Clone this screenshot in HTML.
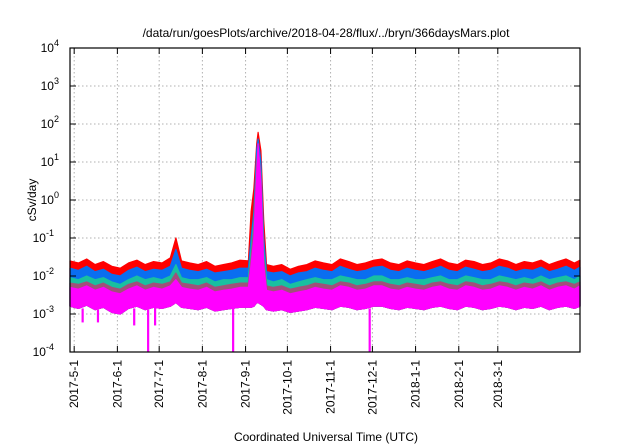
<!DOCTYPE html>
<html><head><meta charset="utf-8"><style>
html,body{margin:0;padding:0;background:#fff;}
svg{display:block;font-family:"Liberation Sans",sans-serif;}
</style></head><body>
<svg id="chart" width="640" height="448" viewBox="0 0 640 448" xmlns="http://www.w3.org/2000/svg">
<text x="326" y="37" font-size="12" text-anchor="middle">/data/run/goesPlots/archive/2018-04-28/flux/../bryn/366daysMars.plot</text>
<text x="0" y="0" font-size="12" text-anchor="middle" transform="translate(36,200) rotate(-90)">cSv/day</text>
<text x="326" y="441" font-size="12" text-anchor="middle">Coordinated Universal Time (UTC)</text>
<g id="grid"></g>
<g id="series"></g>
<g id="axes"></g>
</svg>
<script>
const days=[0,6,12,18,24,30,36,42,48,54,60,66,72,76,80,86,92,98,104,110,116,122,128,130,132,134,135,137,139,141,146,152,158,164,170,176,182,188,194,200,206,212,218,224,230,236,242,248,254,260,266,272,278,284,290,296,302,308,314,320,326,332,338,344,350,356,362,366];
const redVals=[0.025,0.022,0.028,0.02,0.024,0.018,0.016,0.022,0.026,0.02,0.024,0.022,0.03,0.1,0.025,0.022,0.02,0.024,0.018,0.02,0.022,0.026,0.025,0.5,2,30,60,20,0.3,0.02,0.018,0.02,0.015,0.018,0.02,0.025,0.022,0.02,0.028,0.024,0.02,0.022,0.026,0.028,0.022,0.02,0.025,0.022,0.02,0.024,0.028,0.022,0.02,0.026,0.024,0.02,0.022,0.028,0.025,0.02,0.024,0.022,0.026,0.02,0.024,0.028,0.022,0.026];
const blueVals=[0.016,0.014,0.018,0.013,0.015,0.011,0.01,0.014,0.017,0.013,0.015,0.014,0.018,0.05,0.016,0.014,0.013,0.015,0.012,0.013,0.014,0.016,0.016,0.1,0.5,20,40,10,0.1,0.013,0.012,0.013,0.01,0.012,0.013,0.016,0.014,0.013,0.018,0.015,0.013,0.014,0.017,0.018,0.014,0.013,0.016,0.014,0.013,0.015,0.018,0.014,0.013,0.017,0.015,0.013,0.014,0.018,0.016,0.013,0.015,0.014,0.017,0.013,0.015,0.018,0.014,0.017];
const tealVals=[0.009,0.008,0.01,0.008,0.009,0.007,0.006,0.008,0.01,0.008,0.009,0.008,0.01,0.02,0.009,0.008,0.008,0.009,0.007,0.008,0.008,0.009,0.009,0.05,0.3,10,25,5,0.05,0.008,0.007,0.008,0.006,0.007,0.008,0.009,0.008,0.008,0.01,0.009,0.008,0.008,0.01,0.01,0.008,0.008,0.009,0.008,0.008,0.009,0.01,0.008,0.008,0.01,0.009,0.008,0.008,0.01,0.009,0.008,0.009,0.008,0.01,0.008,0.009,0.01,0.008,0.01];
const brownVals=[0.0065,0.006,0.007,0.0055,0.0065,0.005,0.0045,0.006,0.007,0.0055,0.0065,0.006,0.007,0.012,0.0065,0.006,0.0055,0.0065,0.005,0.0055,0.006,0.0065,0.0065,0.03,0.2,8,20,4,0.03,0.0055,0.005,0.0055,0.0045,0.005,0.0055,0.0065,0.006,0.0055,0.007,0.0065,0.0055,0.006,0.007,0.007,0.006,0.0055,0.0065,0.006,0.0055,0.0065,0.007,0.006,0.0055,0.007,0.0065,0.0055,0.006,0.007,0.0065,0.0055,0.0065,0.006,0.007,0.0055,0.0065,0.007,0.006,0.007];
const magTopVals=[0.005,0.0045,0.0055,0.0042,0.005,0.0038,0.0034,0.0045,0.0055,0.0042,0.005,0.0045,0.0055,0.008,0.005,0.0045,0.0042,0.005,0.0038,0.0042,0.0045,0.005,0.005,0.02,0.1,5,30,3,0.02,0.0042,0.0038,0.0042,0.0034,0.0038,0.0042,0.005,0.0045,0.0042,0.0055,0.005,0.0042,0.0045,0.0055,0.0055,0.0045,0.0042,0.005,0.0045,0.0042,0.005,0.0055,0.0045,0.0042,0.0055,0.005,0.0042,0.0045,0.0055,0.005,0.0042,0.005,0.0045,0.0055,0.0042,0.005,0.0055,0.0045,0.0055];
const magBotVals=[0.0016,0.0014,0.0017,0.0013,0.0015,0.0011,0.001,0.0014,0.0016,0.0013,0.0015,0.0014,0.0016,0.002,0.0015,0.0014,0.0013,0.0015,0.0012,0.0013,0.0014,0.0015,0.0015,0.0015,0.0016,0.002,0.002,0.0018,0.0016,0.0013,0.0012,0.0013,0.0011,0.0012,0.0013,0.0015,0.0014,0.0013,0.0016,0.0015,0.0013,0.0014,0.0016,0.0016,0.0014,0.0013,0.0015,0.0014,0.0013,0.0015,0.0016,0.0014,0.0013,0.0016,0.0015,0.0013,0.0014,0.0016,0.0015,0.0013,0.0015,0.0014,0.0016,0.0013,0.0015,0.0016,0.0014,0.0016];
const dipDays=[9,20,46,56,61,117,215];
const dipVals=[0.0006,0.0006,0.0005,0.0001,0.0005,0.0001,0.0001];
const xTickDays=[3,34,64,95,126,156,187,217,248,279,307];
const xTickLabels=["2017-5-1","2017-6-1","2017-7-1","2017-8-1","2017-9-1","2017-10-1","2017-11-1","2017-12-1","2018-1-1","2018-2-1","2018-3-1"];
const yTickExps=[-4,-3,-2,-1,0,1,2,3,4];

const L=70,R=580,T=48,B=352,D0=0,D1=366,YMIN=-4,YMAX=4;
const NS="http://www.w3.org/2000/svg";
function xs(d){return L+(d-D0)/(D1-D0)*(R-L);}
function ys(v){const lv=Math.log10(Math.max(v,1e-4));return B-(lv-YMIN)/(YMAX-YMIN)*(B-T);}
function mk(tag,attrs,parent){const e=document.createElementNS(NS,tag);for(const k in attrs)e.setAttribute(k,attrs[k]);parent.appendChild(e);return e;}
const grid=document.getElementById('grid'),series=document.getElementById('series'),axes=document.getElementById('axes');

yTickExps.forEach(ex=>{
  const y=ys(Math.pow(10,ex));
  if(ex>YMIN&&ex<YMAX){const g=mk('line',{x1:L,x2:R,y1:y,y2:y,stroke:'#b0b0b0','stroke-dasharray':'1.5,2.5','stroke-width':1},grid);
  
  }
  const t1=mk('line',{x1:L,x2:L+6,y1:y,y2:y,stroke:'#000'},axes);
  
  
  const t2=mk('line',{x1:R-6,x2:R,y1:y,y2:y,stroke:'#000'},axes);
  
  
  const tx=mk('text',{x:L-6,y:y+4,'font-size':12,'text-anchor':'end'},axes);
  
  
  const base=document.createElementNS(NS,'tspan');base.textContent='10';tx.appendChild(base);
  const sup=document.createElementNS(NS,'tspan');sup.setAttribute('dy','-6');sup.setAttribute('font-size','9');sup.textContent=String(ex);tx.appendChild(sup);
  tx.setAttribute('x',L-6-(String(ex).length*5));
  tx.setAttribute('text-anchor','end');
});
xTickDays.forEach((d,i)=>{
  const x=xs(d);
  const g=mk('line',{x1:x,x2:x,y1:T,y2:B,stroke:'#b0b0b0','stroke-dasharray':'1.5,2.5','stroke-width':1},grid);
  
  
  const t1=mk('line',{x1:x,x2:x,y1:B-6,y2:B,stroke:'#000'},axes);
  
  
  const t2=mk('line',{x1:x,x2:x,y1:T,y2:T+6,stroke:'#000'},axes);
  
  
  const tx=mk('text',{x:0,y:0,'font-size':12,'text-anchor':'end',transform:`translate(${x+4},${B+8}) rotate(-90)`},axes);
  
  
  tx.textContent=xTickLabels[i];
});
const border=mk('rect',{x:L,y:T,width:R-L,height:B-T,fill:'none',stroke:'#000','stroke-width':1.2},axes);



function band(top,bot,color,name){
  const n=Math.min(days.length,top.length,bot.length);
  let p='';
  for(let i=0;i<n;i++)p+=(i?'L':'M')+xs(days[i]).toFixed(1)+','+ys(top[i]).toFixed(1);
  for(let i=n-1;i>=0;i--)p+='L'+xs(days[i]).toFixed(1)+','+ys(bot[i]).toFixed(1);
  const e=mk('path',{d:p+'Z',fill:color,stroke:color,'stroke-width':1.2,'stroke-linejoin':'round'},series);
  
  
}
band(redVals,magBotVals,'#ff0000','series-red');
band(blueVals,magBotVals,'#0a6ef0','series-blue');
band(tealVals,magBotVals,'#18c0a0','series-teal');
band(brownVals,magBotVals,'#a0507a','series-brown');
band(magTopVals,magBotVals,'#ff00ff','series-magenta');
dipDays.forEach((d,i)=>{
  let j=0;while(j<days.length-1&&days[j+1]<=d)j++;
  const e=mk('rect',{x:xs(d)-1,y:ys(magBotVals[j]),width:2.2,height:ys(dipVals[i])-ys(magBotVals[j]),fill:'#ff00ff'},series);
  
  
});
</script>
</body></html>
